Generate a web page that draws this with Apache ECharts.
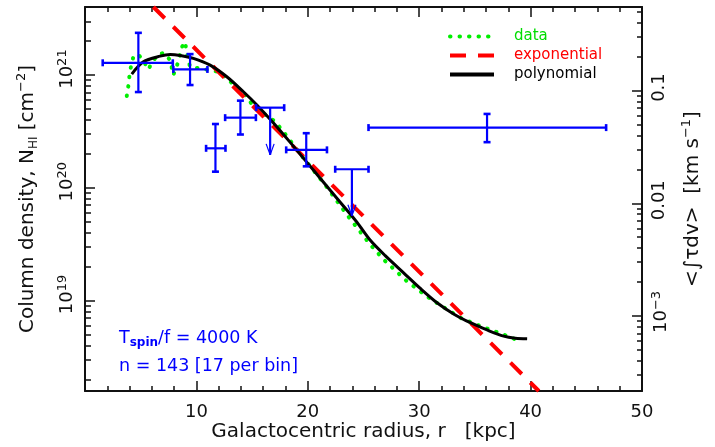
<!DOCTYPE html>
<html><head><meta charset="utf-8">
<script src="https://cdn.jsdelivr.net/npm/echarts@6/dist/echarts.min.js"></script>
<style>html,body{margin:0;padding:0;background:#fff}#c{width:715px;height:447px}</style>
</head><body><div id="c"></div>
<script>
// ---- data ----
const dataR = [3.75, 3.89, 3.98, 4.13, 4.34, 4.76, 5.21, 5.69, 6.02, 6.59, 7.10, 7.64, 7.93, 8.36, 8.69, 8.99, 9.14, 9.43, 10.18, 11.08, 11.98, 12.73, 14.53, 15.12, 17.07, 18.27, 19.16, 21.56, 23.51, 25.61, 26.80, 28.90, 30.84, 33.69, 35.49, 37.13, 38.79];
const dataN = [6.52e20, 8.0e20, 9.66e20, 1.2e21, 1.45e21, 1.53e21, 1.36e21, 1.12e21, 1.30e21, 1.53e21, 1.57e21, 1.36e21, 1.0e21, 1.30e21, 1.77e21, 1.97e21, 1.56e21, 1.18e21, 1.15e21, 1.11e21, 1.07e21, 9.35e20, 6.43e20, 5.25e20, 3.87e20, 2.75e20, 2.09e20, 1.06e20, 5.77e19, 3.13e19, 2.31e19, 1.48e19, 1.06e19, 7.03e18, 5.93e18, 5.18e18, 4.46e18];
const expR = [6.14, 40.74];
const expN = [4.02e21, 1.574e18];
const polyR = [4.20, 5.24, 6.74, 7.64, 8.54, 9.73, 11.23, 12.73, 14.22, 15.43, 16.92, 18.42, 19.92, 21.41, 22.91, 24.41, 25.61, 26.95, 28.60, 30.10, 31.60, 33.09, 34.59, 36.09, 37.58, 38.63, 39.69];
const polyN = [1.021e21, 1.312e21, 1.472e21, 1.524e21, 1.494e21, 1.406e21, 1.225e21, 9.66e20, 7.11e20, 5.43e20, 3.76e20, 2.53e20, 1.68e20, 1.12e20, 7.45e19, 4.95e19, 3.42e19, 2.50e19, 1.76e19, 1.28e19, 9.55e18, 7.60e18, 6.35e18, 5.48e18, 4.83e18, 4.63e18, 4.58e18];
// binned points with error bars
const binR   = [4.79, 9.43, 11.71, 13.95, 19.86, 36.09];
const binRlo = [1.59, 7.93, 10.87, 12.58, 18.06, 25.45];
const binRhi = [7.88, 10.99, 12.61, 15.34, 21.72, 46.78];
const binN   = [1.285e21, 1.122e21, 2.24e20, 4.19e20, 2.17e20, 3.42e20];
const binNlo = [7.07e20, 8.16e20, 1.39e20, 2.97e20, 1.55e20, 2.54e20];
const binNhi = [2.37e21, 1.535e21, 3.68e20, 5.93e20, 3.05e20, 4.52e20];
// upper limits
const limR   = [16.62, 23.96];
const limRlo = [15.36, 22.46];
const limRhi = [17.88, 25.45];
const limN   = [5.14e20, 1.46e20];
const limTip = [1.96e20, 5.65e19];
// axes
const xMajor = [10, 20, 30, 40, 50];
const leftMajor = [1e19, 1e20, 1e21];
const rightMajor = [1e-3, 1e-2, 1e-1];
const rightLabelText = ['{b|10}{s|\u22123}', '{c|0.01}', '{c|0.1}'];
const NperTau = 7.29e21; // 1.823e18 * Tspin/f(4000)
const yMin = Math.pow(10, 18.197), yMax = Math.pow(10, 21.604);

const FONT = 'DejaVu Sans';
const BLUE = '#0000ff';
function minors(lo, hi) {
  const out = [];
  for (let e = Math.floor(Math.log10(lo)); e <= Math.ceil(Math.log10(hi)); e++) {
    for (let m = 2; m <= 9; m++) { const v = m * Math.pow(10, e); if (v >= lo && v <= hi) out.push(v); }
  }
  return out;
}
const rMin = yMin / NperTau, rMax = yMax / NperTau;

const axisLineStyle = { color: '#111', width: 2 };
const tickStyle = { color: '#111', width: 1.5 };
const hidden = { opacity: 0, color: 'rgba(0,0,0,0)', borderColor: 'rgba(0,0,0,0)', borderWidth: 0 };

const chart = echarts.init(document.getElementById('c'));
chart.setOption({
  animation: false,
  backgroundColor: '#fff',
  grid: { left: 85, right: 73, top: 7, bottom: 55, containLabel: false },
  legend: {
    orient: 'vertical', left: 443, top: 24, itemWidth: 44, itemHeight: 10, itemGap: 4,
    itemStyle: hidden,
    textStyle: { fontFamily: FONT, fontSize: 15, padding: [0, 0, 10, 15] },
    data: [
      { name: 'data', itemStyle: hidden, lineStyle: { width: 4 }, textStyle: { color: '#00dd00' } },
      { name: 'exponential', itemStyle: hidden, lineStyle: { width: 4 }, textStyle: { color: '#ff0000' } },
      { name: 'polynomial', itemStyle: hidden, lineStyle: { width: 4 }, textStyle: { color: '#000' } }
    ]
  },
  xAxis: [
    { type: 'value', position: 'bottom', min: 0, max: 50, interval: 10,
      axisLine: { lineStyle: axisLineStyle }, axisTick: { inside: true, length: 10, lineStyle: tickStyle },
      minorTick: { show: true, splitNumber: 5, length: 5, lineStyle: tickStyle },
      splitLine: { show: false }, minorSplitLine: { show: false },
      axisLabel: { margin: 12, color: '#111', fontFamily: FONT, fontSize: 18,
        customValues: xMajor },
      name: 'Galactocentric radius, r   [kpc]', nameLocation: 'middle', nameGap: 31, nameMoveOverlap: false,
      nameTextStyle: { fontFamily: FONT, fontSize: 20, color: '#111' } },
    { type: 'value', position: 'top', min: 0, max: 50, interval: 10,
      axisLine: { lineStyle: axisLineStyle }, axisTick: { inside: true, length: 10, lineStyle: tickStyle },
      minorTick: { show: true, splitNumber: 5, length: 5, lineStyle: tickStyle },
      splitLine: { show: false }, axisLabel: { show: false } }
  ],
  yAxis: [
    { type: 'log', position: 'left', min: yMin, max: yMax,
      axisLine: { show: true, lineStyle: axisLineStyle },
      axisTick: { show: true, inside: true, length: 10, lineStyle: tickStyle, customValues: leftMajor },
      splitLine: { show: false },
      axisLabel: { customValues: leftMajor, rotate: 90, margin: 6, color: '#111', fontFamily: FONT, fontSize: 18,
        formatter: v => '{b|10}{s|' + Math.round(Math.log10(v)) + '}',
        rich: { b: { fontFamily: FONT, fontSize: 18, color: '#111', padding: [0, 0, 0, 12] }, s: { fontFamily: FONT, fontSize: 13, color: '#111', verticalAlign: 'bottom', padding: [0, 0, 10, 0] } } },
      name: '{t|Column density, N}{u|HI}{t| [cm}{p|\u22122}{t|]}', nameLocation: 'middle', nameRotate: 90, nameGap: 45, nameMoveOverlap: false,
      nameTextStyle: { rich: {
        t: { fontFamily: FONT, fontSize: 20, color: '#111' },
        u: { fontFamily: FONT, fontSize: 12, color: '#111', padding: [12, 0, 0, 0] },
        p: { fontFamily: FONT, fontSize: 13, color: '#111', padding: [0, 0, 12, 0] } } } },
    { type: 'log', position: 'left', min: yMin, max: yMax,
      axisLine: { show: false }, splitLine: { show: false }, axisLabel: { show: false },
      axisTick: { show: true, inside: true, length: 6, lineStyle: tickStyle, customValues: minors(yMin, yMax) } },
    { type: 'log', position: 'right', min: rMin, max: rMax,
      axisLine: { show: true, lineStyle: axisLineStyle },
      axisTick: { show: true, inside: true, length: 10, lineStyle: tickStyle, customValues: rightMajor },
      splitLine: { show: false },
      axisLabel: { customValues: rightMajor, rotate: 90, margin: 8, color: '#111', fontFamily: FONT, fontSize: 18,
        formatter: v => rightLabelText[Math.round(Math.log10(v)) + 3],
        rich: { b: { fontFamily: FONT, fontSize: 18, color: '#111', padding: [0, 0, 0, 8] },
                c: { fontFamily: FONT, fontSize: 18, color: '#111', padding: [0, 0, 0, 6] },
                s: { fontFamily: FONT, fontSize: 13, color: '#111', padding: [0, 0, 10, 0] } } },
      name: '{t|<\u222B\u03C4dv>  [km s}{p|\u22121}{t|]}', nameLocation: 'middle', nameRotate: 90, nameGap: 38, nameMoveOverlap: false,
      nameTextStyle: { rich: {
        t: { fontFamily: FONT, fontSize: 20, color: '#111' },
        p: { fontFamily: FONT, fontSize: 13, color: '#111', padding: [0, 0, 12, 0] } } } },
    { type: 'log', position: 'right', min: rMin, max: rMax,
      axisLine: { show: false }, splitLine: { show: false }, axisLabel: { show: false },
      axisTick: { show: true, inside: true, length: 5, lineStyle: tickStyle, customValues: minors(rMin, rMax) } }
  ],
  graphic: [
    { type: 'text', left: 119, top: 329, style: { text: '{a|T}{s|spin}{a|/f = 4000 K}', rich: {
        a: { fontFamily: FONT, fontSize: 17.5, fill: BLUE },
        s: { fontFamily: FONT, fontSize: 12, fill: BLUE, fontWeight: 'bold', padding: [9, 0, 0, 0] } } } },
    { type: 'text', left: 119, top: 357, style: { text: 'n = 143 [17 per bin]', fontFamily: FONT, fontSize: 17.5, fill: BLUE } }
  ],
  series: [
    { name: 'data', type: 'line', xAxisIndex: 0, yAxisIndex: 0, symbol: 'none', z: 2,
      data: dataR.map((r, i) => [r, dataN[i]]),
      lineStyle: { color: '#00ee00', width: 4, type: [0.5, 9], cap: 'round' }, itemStyle: { color: '#00ee00' } },
    { name: 'exponential', type: 'line', xAxisIndex: 0, yAxisIndex: 0, symbol: 'none', z: 3,
      data: expR.map((r, i) => [r, expN[i]]),
      lineStyle: { color: '#ff0000', width: 4, type: [16, 12] }, itemStyle: { color: '#ff0000' } },
    { name: 'polynomial', type: 'line', xAxisIndex: 0, yAxisIndex: 0, symbol: 'none', z: 4, smooth: 0.3,
      data: polyR.map((r, i) => [r, polyN[i]]),
      lineStyle: { color: '#000', width: 3 }, itemStyle: { color: '#000' } },
    { name: 'bins', type: 'custom', xAxisIndex: 0, yAxisIndex: 0, z: 5,
      encode: { x: 0, y: 1 },
      data: binR.map((r, i) => [r, binN[i], binRlo[i], binRhi[i], binNlo[i], binNhi[i]]),
      renderItem: (params, api) => {
        const c = api.coord([api.value(0), api.value(1)]);
        const l = api.coord([api.value(2), api.value(1)]);
        const rr = api.coord([api.value(3), api.value(1)]);
        const b = api.coord([api.value(0), api.value(4)]);
        const t = api.coord([api.value(0), api.value(5)]);
        const st = { stroke: BLUE, lineWidth: 2.2 };
        const cs = { stroke: BLUE, lineWidth: 2.6 };
        const cap = 3.5;
        return { type: 'group', children: [
          { type: 'line', shape: { x1: l[0], y1: c[1], x2: rr[0], y2: c[1] }, style: st },
          { type: 'line', shape: { x1: c[0], y1: t[1], x2: c[0], y2: b[1] }, style: st },
          { type: 'line', shape: { x1: l[0], y1: c[1] - cap, x2: l[0], y2: c[1] + cap }, style: cs },
          { type: 'line', shape: { x1: rr[0], y1: c[1] - cap, x2: rr[0], y2: c[1] + cap }, style: cs },
          { type: 'line', shape: { x1: c[0] - cap, y1: t[1], x2: c[0] + cap, y2: t[1] }, style: cs },
          { type: 'line', shape: { x1: c[0] - cap, y1: b[1], x2: c[0] + cap, y2: b[1] }, style: cs }
        ] };
      } },
    { name: 'limits', type: 'custom', xAxisIndex: 0, yAxisIndex: 0, z: 5,
      encode: { x: 0, y: 1 },
      data: limR.map((r, i) => [r, limN[i], limRlo[i], limRhi[i], limTip[i]]),
      renderItem: (params, api) => {
        const c = api.coord([api.value(0), api.value(1)]);
        const l = api.coord([api.value(2), api.value(1)]);
        const rr = api.coord([api.value(3), api.value(1)]);
        const tip = api.coord([api.value(0), api.value(4)]);
        const st = { stroke: BLUE, lineWidth: 2.2 };
        const cs = { stroke: BLUE, lineWidth: 2.6 };
        const th = { stroke: BLUE, lineWidth: 1.2 };
        const cap = 3.5;
        return { type: 'group', children: [
          { type: 'line', shape: { x1: l[0], y1: c[1], x2: rr[0], y2: c[1] }, style: st },
          { type: 'line', shape: { x1: c[0], y1: c[1], x2: c[0], y2: tip[1] }, style: st },
          { type: 'line', shape: { x1: l[0], y1: c[1] - cap, x2: l[0], y2: c[1] + cap }, style: cs },
          { type: 'line', shape: { x1: rr[0], y1: c[1] - cap, x2: rr[0], y2: c[1] + cap }, style: cs },
          { type: 'line', shape: { x1: c[0] - 4, y1: tip[1] - 11, x2: c[0], y2: tip[1] }, style: th },
          { type: 'line', shape: { x1: c[0] + 4, y1: tip[1] - 11, x2: c[0], y2: tip[1] }, style: th }
        ] };
      } }
  ]
});
</script></body></html>
